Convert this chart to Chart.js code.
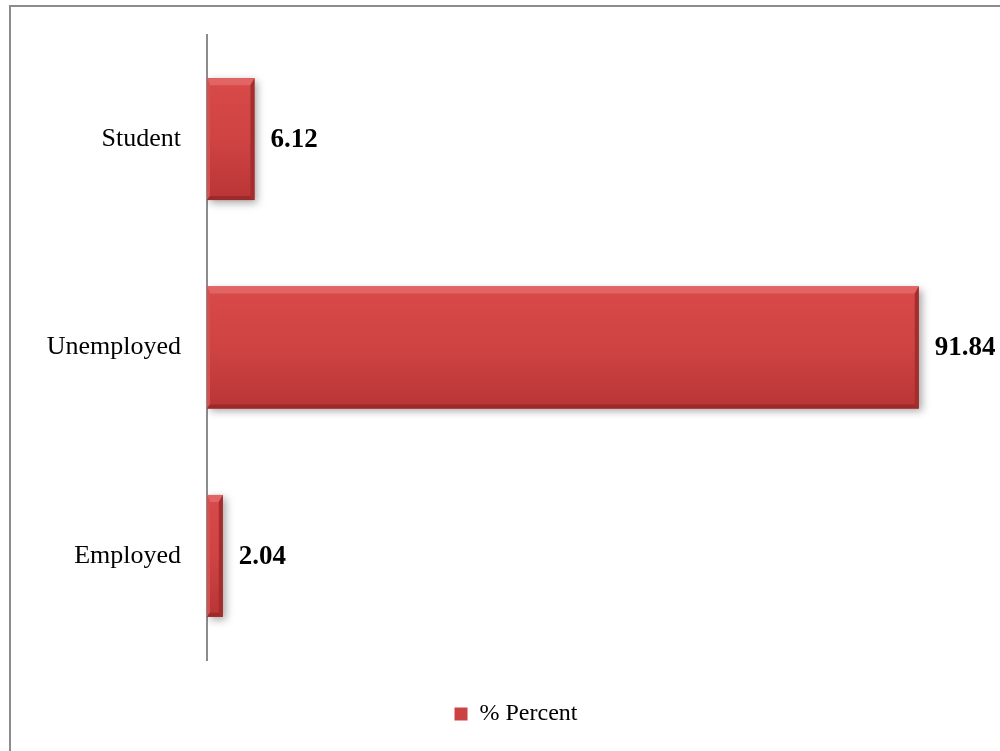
<!DOCTYPE html>
<html>
<head>
<meta charset="utf-8">
<script src="https://cdn.jsdelivr.net/npm/chart.js@4/dist/chart.umd.min.js"></script>
<style>
  html, body { margin: 0; padding: 0; background: #fff; }
  #wrap { position: relative; width: 1000px; height: 751px; }
</style>
</head>
<body>
<div id="wrap"><canvas id="mycanvas"></canvas></div>
<script>
var categories = ["Student", "Unemployed", "Employed"];
var percent = [6.12, 91.84, 2.04];
var seriesName = "% Percent";

// frame round the chart (left and top edges show)
var framePlugin = {
	id: 'frame',
	beforeDraw: function(chart) {
		var ctx = chart.ctx;
		ctx.save();
		ctx.strokeStyle = '#8c8c8c';
		ctx.lineWidth = 2;
		ctx.beginPath();
		ctx.moveTo(10, 751);
		ctx.lineTo(10, 6);
		ctx.lineTo(1000, 6);
		ctx.stroke();
		ctx.restore();
	}
};

// nudge the legend a little to the right
var legendShift = {
	id: 'legendShift',
	afterLayout: function(chart) {
		if (chart.legend) {
			chart.legend.left += 25;
			chart.legend.right += 25;
		}
	}
};

// soft shadow under the bars
var shadowPlugin = {
	id: 'barShadow',
	beforeDatasetDraw: function(chart) {
		var ctx = chart.ctx;
		ctx.save();
		ctx.shadowColor = 'rgba(0,0,0,0.35)';
		ctx.shadowBlur = 8;
		ctx.shadowOffsetX = 3;
		ctx.shadowOffsetY = 3;
	},
	afterDatasetDraw: function(chart) {
		chart.ctx.restore();
	}
};

function facet(ctx, color, pts) {
	ctx.fillStyle = color;
	ctx.beginPath();
	ctx.moveTo(pts[0], pts[1]);
	for (var k = 2; k < pts.length; k += 2) ctx.lineTo(pts[k], pts[k + 1]);
	ctx.closePath();
	ctx.fill();
}

// shading, bevelled edges and value labels
var bevelPlugin = {
	id: 'bevel',
	afterDatasetsDraw: function(chart) {
		var ctx = chart.ctx;
		var meta = chart.getDatasetMeta(0);
		meta.data.forEach(function(bar, i) {
			var l = Math.min(bar.base, bar.x), r = Math.max(bar.base, bar.x);
			var t = bar.y - bar.height / 2, b = bar.y + bar.height / 2;
			var w = r - l;
			var st = Math.min(7, w / 2), sr = Math.min(4, w / 3), sb = 4, sl = Math.min(3, w / 4);
			ctx.save();
			var g = ctx.createLinearGradient(0, t, 0, b);
			g.addColorStop(0, '#d94a4a');
			g.addColorStop(0.5, '#cf4343');
			g.addColorStop(1, '#b93535');
			ctx.fillStyle = g;
			ctx.fillRect(l, t, w, b - t);
			// top facet
			facet(ctx, '#e26565', [l, t, r, t, r - sr, t + st, l + sl, t + st]);
			// left facet
			facet(ctx, '#d55050', [l, t, l + sl, t + st, l + sl, b - sb, l, b]);
			// right facet
			facet(ctx, '#a22e2e', [r, t, r, b, r - sr, b - sb, r - sr, t + st]);
			// bottom facet
			facet(ctx, '#9c2a2a', [l, b, r, b, r - sr, b - sb, l + sl, b - sb]);

			// value label
			ctx.fillStyle = '#000';
			ctx.font = 'bold 27px "Liberation Serif"';
			ctx.textAlign = 'left';
			ctx.textBaseline = 'middle';
			ctx.fillText(percent[i].toFixed(2), r + 16, bar.y + 1);
			ctx.restore();
		});
	}
};

var ctx = document.getElementById('mycanvas');

var chartdata = {
	labels: categories,
	datasets: [
		{
			label: seriesName,
			backgroundColor: '#cc4242',
			borderWidth: 0,
			categoryPercentage: 1.0,
			barPercentage: 0.585,
			data: percent
		}
	]
};

var BarGraph = new Chart(ctx, {
	type: 'bar',
	data: chartdata,
	plugins: [framePlugin, legendShift, shadowPlugin, bevelPlugin],
	options: {
		indexAxis: 'y',
		responsive: true,
		maintainAspectRatio: false,
		animation: false,
		layout: { padding: { top: 35, right: 18, bottom: 15, left: 0 } },
		scales: {
			x: {
				display: false,
				min: 0,
				max: 100
			},
			y: {
				afterFit: function(scale) {
					scale.width = 207;
					scale.paddingTop = 0;
					scale.paddingBottom = 0;
				},
				grid: { display: false, drawTicks: false },
				border: { display: true, color: '#8c8c8c', width: 2 },
				ticks: {
					color: '#000',
					padding: 26,
					font: { family: 'Liberation Serif', size: 26 }
				}
			}
		},
		plugins: {
			tooltip: { enabled: false },
			legend: {
				position: 'bottom',
				labels: {
					color: '#000',
					boxWidth: 13,
					boxHeight: 13,
					padding: 42,
					font: { family: 'Liberation Serif', size: 24 }
				}
			}
		}
	}
});
</script>
</body>
</html>
